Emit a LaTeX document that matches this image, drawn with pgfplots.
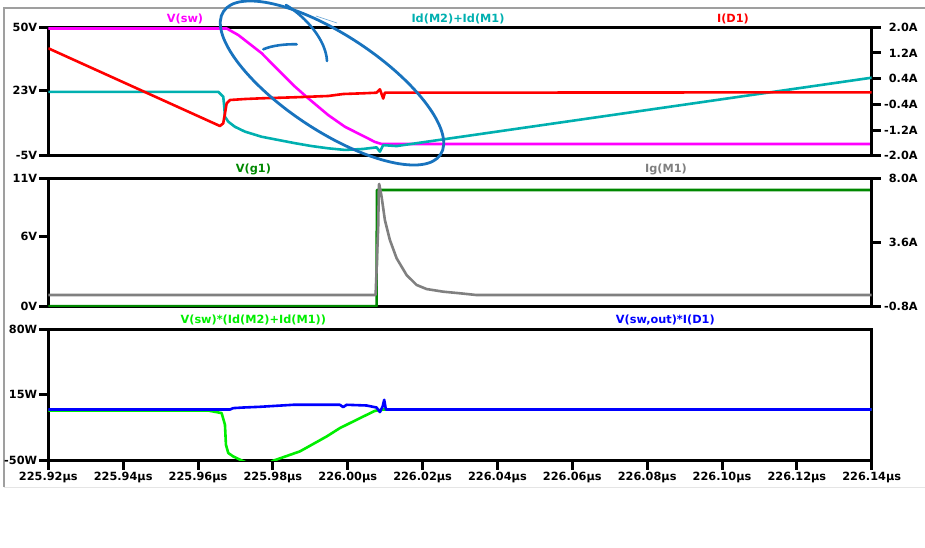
\documentclass[border=0pt]{standalone}
\usepackage{fontspec}
\setmainfont{DejaVu Sans}
\usepackage{pgfplots}
\pgfplotsset{compat=1.18}
\definecolor{ltmag}{RGB}{255,0,255}
\definecolor{ltteal}{RGB}{0,176,176}
\definecolor{ltred}{RGB}{255,0,0}
\definecolor{ltdgreen}{RGB}{0,136,0}
\definecolor{ltgray}{RGB}{128,128,128}
\definecolor{ltgreen}{RGB}{0,238,0}
\definecolor{ltblue}{RGB}{0,0,255}
\definecolor{ink}{RGB}{24,115,190}
\newcommand\lab{\fontsize{11.3bp}{13bp}\selectfont\bfseries}
\newcommand\T[1]{\mbox{\lab #1}}
\pgfplotsset{
  ltpane/.style={
    scale only axis, width=823.4bp, height=128.4bp,
    xmin=225.92, xmax=226.14,
    axis line style={line width=3bp},
    every tick/.style={line width=3bp, black},
    major tick length=9bp,
    tick align=outside,
    xtick=\empty,
    ytick pos=left,
    yticklabel style={anchor=east, inner sep=0pt, xshift=-2bp},
    xticklabel style={anchor=north, inner sep=0pt, yshift=-2bp},
    every axis plot/.append style={line width=2.6bp, line join=round, no marks},
  },
  rightpane/.style={
    axis x line=none, axis y line*=right, ytick pos=right,
    yticklabel style={anchor=west, inner sep=0pt, xshift=10bp},
  },
}
\begin{document}
\begin{tikzpicture}
\path[use as bounding box] (0,0) rectangle (925bp,-548bp);
\draw[line width=1.2bp, gray!75] (4bp,-487bp) -- (4bp,-8bp) -- (925bp,-8bp);
\draw[line width=1bp, gray!20] (4bp,-487bp) -- (925bp,-487bp);

% ---------------- pane 1 ----------------
\begin{axis}[ltpane, at={(48.3bp,-27.3bp)}, anchor=north west,
  ymin=-5, ymax=50, ytick={-5,23,50}, yticklabels={\T{-5V},\T{23V},\T{50V}}]
\addplot[ltmag] table {
225.92 49.5
225.96765 49.5
225.97075 46.7
225.97700 38.9
225.98143 31.7
225.98589 24.6
225.98944 19.6
225.99479 12.4
225.99925 7.4
226.00371 3.8
226.00726 0.9
226.00905 0.0
226.14 0.0
};
\end{axis}
\begin{axis}[ltpane, rightpane, at={(48.3bp,-27.3bp)}, anchor=north west,
  ymin=-2, ymax=2, ytick={-2,-1.2,-0.4,0.4,1.2,2},
  yticklabels={\T{\llap{-}2.0A},\T{\llap{-}1.2A},\T{\llap{-}0.4A},\T{0.4A},\T{1.2A},\T{2.0A}}]
\addplot[ltteal] table {
225.92 -0.01
225.96541 -0.01
225.96674 -0.16
225.96701 -0.47
225.96720 -0.785
225.96808 -0.94
225.96987 -1.10
225.97254 -1.25
225.97700 -1.41
225.98143 -1.51
225.98589 -1.61
225.99035 -1.70
225.99479 -1.77
225.99925 -1.82
226.00413 -1.79
226.00771 -1.74
226.00860 -1.875
226.00948 -1.67
226.01306 -1.70
226.14 0.43
};
\addplot[ltred] table {
225.92 1.346
225.96586 -1.075
225.96674 -0.99
225.96720 -0.68
225.96765 -0.37
225.96853 -0.265
225.97254 -0.234
225.97700 -0.212
225.98589 -0.18
225.99479 -0.14
225.99879 -0.078
226.00413 -0.056
226.00771 -0.037
226.00860 0.069
226.00948 -0.22
226.00993 -0.037
226.14 -0.025
};
\end{axis}

% ---------------- pane 2 ----------------
\begin{axis}[ltpane, at={(48.3bp,-178.3bp)}, anchor=north west,
  ymin=0, ymax=11, ytick={0,6,11}, yticklabels={\T{0V},\T{6V},\T{11V}}]
\addplot[ltdgreen] table {
225.92 0.05
226.00771 0.05
226.00780 10.0
226.14 10.0
};
\end{axis}
\begin{axis}[ltpane, rightpane, at={(48.3bp,-178.3bp)}, anchor=north west,
  ymin=-0.8, ymax=8, ytick={-0.8,3.6,8}, yticklabels={\T{\llap{-}0.8A},\T{3.6A},\T{8.0A}}]
\addplot[ltgray] table {
225.92 0.0
226.00745 0.0
226.00771 1.71
226.00814 4.68
226.00833 7.54
226.00841 7.61
226.00905 6.74
226.00993 5.14
226.01127 3.77
226.01306 2.52
226.01573 1.37
226.01840 0.69
226.02107 0.41
226.02550 0.23
226.02996 0.12
226.03442 0.0
226.14 0.0
};
\end{axis}

% ---------------- pane 3 ----------------
\begin{axis}[ltpane, at={(48.3bp,-329bp)}, anchor=north west, height=131.7bp,
  ymin=-50, ymax=80, ytick={-50,15,80}, yticklabels={\T{-50W},\T{15W},\T{80W}},
  xtick={225.92,225.94,225.96,225.98,226.00,226.02,226.04,226.06,226.08,226.10,226.12,226.14},
  xtick pos=bottom,
  xticklabels={\T{225.92µs},\T{225.94µs},\T{225.96µs},\T{225.98µs},\T{226.00µs},\T{226.02µs},\T{226.04µs},\T{226.06µs},\T{226.08µs},\T{226.10µs},\T{226.12µs},\T{226.14µs}}]
\addplot[ltgreen] table {
225.92 -0.5
225.96274 -0.5
225.96631 -3.0
225.96720 -14.5
225.96746 -34.2
225.96808 -42.4
225.96941 -45.8
225.97208 -50.5
225.97521 -55
225.97708 -55.5
225.97922 -52
225.98010 -50
225.98723 -40.8
225.99436 -26.1
225.99791 -17.8
226.00326 -8.0
226.00726 -0.8
226.00948 0.5
226.14 0.5
};
\addplot[ltblue] table {
225.92 0.5
225.96853 0.5
225.96941 1.9
225.97208 2.5
225.97654 3.2
225.98100 4.2
225.98544 5.2
225.99791 5.2
225.99879 2.9
225.99970 5.2
226.00504 4.5
226.00771 2.5
226.00860 -2.0
226.00932 3.5
226.00975 10.1
226.01020 0.5
226.14 0.5
};
\end{axis}

% ---------------- trace names ----------------
\node[anchor=base, text=ltmag, font=\lab] at (185bp,-22bp) {V(sw)};
\node[anchor=base, text=ltteal, font=\lab] at (458bp,-22bp) {Id(M2)+Id(M1)};
\node[anchor=base, text=ltred, font=\lab] at (733bp,-22bp) {I(D1)};
\node[anchor=base, text=ltdgreen, font=\lab] at (253.5bp,-172.5bp) {V(g1)};
\node[anchor=base, text=ltgray, font=\lab] at (666bp,-172.5bp) {Ig(M1)};
\node[anchor=base, text=ltgreen, font=\lab] at (253.3bp,-323.3bp) {V(sw)*(Id(M2)+Id(M1))};
\node[anchor=base, text=ltblue, font=\lab] at (665.3bp,-323.3bp) {V(sw,out)*I(D1)};

% ---------------- hand-drawn markup ----------------
\draw[ink, line width=2.8bp, rotate around={-33.4:(332bp,-83bp)}] (332bp,-83bp) ellipse [x radius=130bp, y radius=48bp];
\draw[ink, line width=2.6bp, line cap=round] (263.3bp,-49.3bp) .. controls (272bp,-45.5bp) and (285bp,-44bp) .. (296.7bp,-44.3bp);
\draw[ink, line width=2.6bp, line cap=round] (286bp,-5bp) .. controls (306bp,-17bp) and (326bp,-40bp) .. (327bp,-61bp);
\draw[ink!70, line width=0.6bp] (316bp,-16bp) -- (337bp,-23bp);
\end{tikzpicture}
\end{document}
